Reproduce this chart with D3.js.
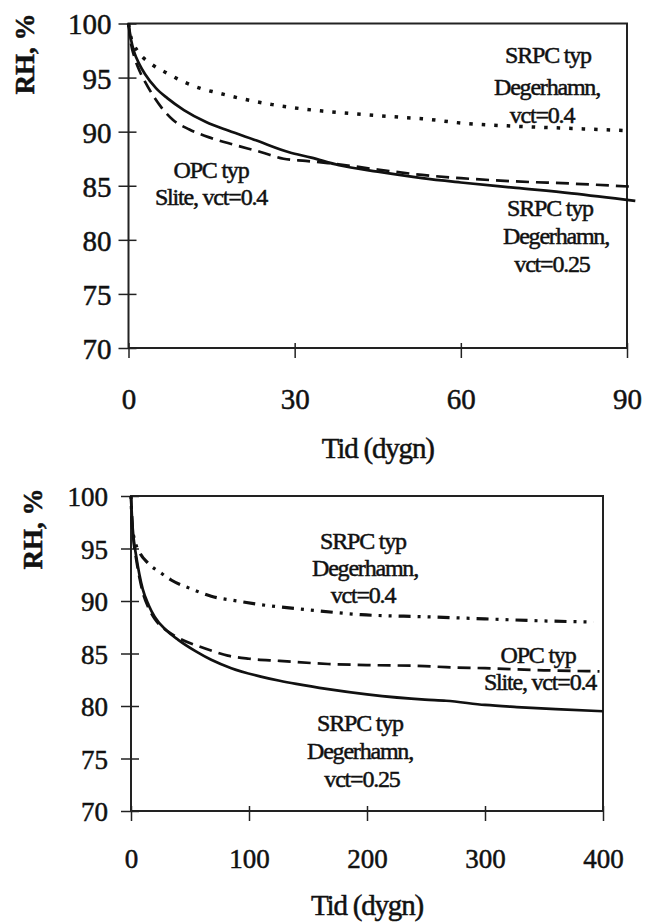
<!DOCTYPE html>
<html>
<head>
<meta charset="utf-8">
<script src="https://cdn.jsdelivr.net/npm/d3@7"></script>
<style>
  body { margin: 0; background: #fff; }
  text { font-family: "Liberation Serif", "Times New Roman", serif; fill: #111; stroke: #111; stroke-width: 0.5px; }
</style>
</head>
<body>
<svg id="chart" width="645" height="923"></svg>
<script>
// top chart, 0-90 days
const topSolidDays = [0, 0.5, 1, 2, 3, 5, 7, 10, 14, 18, 23, 29, 33, 38, 45, 53, 60, 70, 80, 91.5];
const topSolidRH   = [100, 98.4, 97.4, 96.2, 95.3, 94.0, 93.1, 92.0, 90.9, 90.1, 89.2, 88.1, 87.6, 86.9, 86.3, 85.7, 85.3, 84.8, 84.3, 83.6];
const topDashDays  = [0, 0.5, 1, 2, 3, 4, 6, 8, 11, 15, 19, 24, 28, 32, 36, 45, 53, 60, 70, 80, 91.5];
const topDashRH    = [100, 98.0, 97.0, 95.6, 94.6, 93.7, 92.2, 91.1, 90.2, 89.4, 88.8, 88.1, 87.5, 87.3, 87.1, 86.5, 86.0, 85.7, 85.4, 85.2, 84.9];
const topDotDays   = [0, 0.5, 1, 2, 4, 7, 10, 13, 16, 20, 26, 30, 35, 42, 50, 53, 60, 70, 80, 90];
const topDotRH     = [100, 98.6, 98.0, 97.2, 96.3, 95.4, 94.6, 94.0, 93.6, 93.1, 92.5, 92.2, 91.9, 91.6, 91.3, 91.2, 90.8, 90.5, 90.3, 90.1];
const topXTicks = [0, 30, 60, 90];

// bottom chart, 0-400 days
const botSolidDays = [0, 1, 2, 4.5, 7, 10, 15, 20, 30, 40, 55, 68, 85, 110, 126, 140, 167, 200, 249, 267, 300, 327, 360, 400];
const botSolidRH   = [100, 97.6, 96.2, 94.2, 92.6, 91.1, 89.6, 88.5, 87.2, 86.3, 85.2, 84.4, 83.6, 82.8, 82.4, 82.1, 81.6, 81.1, 80.6, 80.5, 80.1, 79.9, 79.7, 79.5];
const botDashDays  = [0, 1, 2, 4.5, 7, 10, 15, 20, 30, 40, 57, 70, 82, 100, 126, 167, 200, 249, 267, 300, 350, 397];
const botDashRH    = [100, 97.3, 95.9, 93.9, 92.3, 90.8, 89.3, 88.3, 87.2, 86.5, 85.7, 85.2, 84.8, 84.5, 84.3, 84.0, 83.9, 83.8, 83.7, 83.6, 83.4, 83.3];
const botDotDays   = [0, 1, 3.1, 7, 14.4, 25, 34, 50, 68, 90, 110, 147, 195, 249, 300, 350, 392];
const botDotRH     = [100, 97.2, 95.8, 94.7, 93.6, 92.7, 92.0, 91.2, 90.45, 90.0, 89.65, 89.2, 88.7, 88.5, 88.3, 88.1, 88.0];
const botXTicks = [0, 100, 200, 300, 400];

const yTicks = [70, 75, 80, 85, 90, 95, 100];

// annotation text lines
const topNotes = [
  { lines: ["SRPC typ", "Degerhamn,", "vct=0.4"], x: [548, 547, 542], y: [63, 95, 123] },
  { lines: ["OPC typ", "Slite, vct=0.4"], x: [211, 211], y: [178, 205] },
  { lines: ["SRPC typ", "Degerhamn,", "vct=0.25"], x: [550, 556, 552], y: [216, 244, 272] }
];
const botNotes = [
  { lines: ["SRPC typ", "Degerhamn,", "vct=0.4"], x: [363, 365, 363], y: [549, 576, 603] },
  { lines: ["OPC typ", "Slite, vct=0.4"], x: [538, 540], y: [663, 690] },
  { lines: ["SRPC typ", "Degerhamn,", "vct=0.25"], x: [360, 360, 362], y: [731, 759, 787] }
];

const svg = d3.select("#chart");

function drawPanel(cfg) {
  const x = d3.scaleLinear().domain(cfg.xDomain).range([cfg.left, cfg.right]);
  const y = d3.scaleLinear().domain([70, 100]).range([cfg.bottom, cfg.top]);
  const g = svg.append("g");

  // frame
  g.append("rect")
    .attr("x", cfg.left).attr("y", cfg.top)
    .attr("width", cfg.right - cfg.left).attr("height", cfg.bottom - cfg.top)
    .attr("fill", "none").attr("stroke", "#222").attr("stroke-width", 2);

  // y axis, ticks cross the frame
  const ya = g.append("g")
    .attr("transform", `translate(${cfg.left},0)`)
    .call(d3.axisLeft(y).tickValues(yTicks).tickSize(10).tickPadding(cfg.yPad));
  ya.select(".domain").remove();
  ya.selectAll(".tick line").attr("x1", 8).attr("stroke", "#222").attr("stroke-width", 1.5);
  ya.selectAll(".tick text")
    .attr("font-size", cfg.tickFont).attr("font-family", "Liberation Serif")
    .attr("fill", "#111").attr("dy", "0.36em");

  // x axis
  const xa = g.append("g")
    .attr("transform", `translate(0,${cfg.bottom})`)
    .call(d3.axisBottom(x).tickValues(cfg.xTicks).tickSize(10).tickPadding(cfg.xPad));
  xa.select(".domain").remove();
  xa.selectAll(".tick line").attr("y1", -5).attr("stroke", "#222").attr("stroke-width", 1.5);
  xa.selectAll(".tick text")
    .attr("font-size", cfg.tickFont).attr("font-family", "Liberation Serif")
    .attr("fill", "#111");

  // axis titles
  g.append("text")
    .attr("transform", `translate(${cfg.yTitleX},${cfg.yTitleY}) rotate(-90)`)
    .attr("text-anchor", "middle")
    .attr("font-size", 27).attr("font-weight", "bold")
    .text("RH, %");
  g.append("text")
    .attr("x", (cfg.left + cfg.right) / 2).attr("y", cfg.xTitleY)
    .attr("text-anchor", "middle")
    .attr("font-size", 29).attr("letter-spacing", -1.2)
    .text("Tid (dygn)");

  const line = d3.line().x(d => x(d[0])).y(d => y(d[1])).curve(d3.curveMonotoneX);
  cfg.series.forEach(s => {
    g.append("path")
      .datum(d3.zip(s.days, s.rh))
      .attr("d", line)
      .attr("fill", "none")
      .attr("stroke", "#111")
      .attr("stroke-width", s.width)
      .attr("stroke-dasharray", s.dash);
  });

  cfg.notes.forEach(n => {
    n.lines.forEach((t, i) => {
      g.append("text")
        .attr("x", n.x[i]).attr("y", n.y[i])
        .attr("text-anchor", "middle")
        .attr("font-size", 24).attr("letter-spacing", -1.2)
        .text(t);
    });
  });
}

drawPanel({
  xDomain: [0, 90], xTicks: topXTicks,
  left: 128.5, right: 627, top: 23.5, bottom: 348,
  tickFont: 29, yPad: 7, xPad: 30,
  yTitleX: 34, yTitleY: 54, xTitleY: 458,
  series: [
    { days: topDotDays, rh: topDotRH, width: 3.5, dash: "3.5,9" },
    { days: topDashDays, rh: topDashRH, width: 2.7, dash: "13,7" },
    { days: topSolidDays, rh: topSolidRH, width: 2.7, dash: null }
  ],
  notes: topNotes
});

drawPanel({
  xDomain: [0, 400], xTicks: botXTicks,
  left: 131, right: 603, top: 496, bottom: 811,
  tickFont: 27, yPad: 13, xPad: 28,
  yTitleX: 42, yTitleY: 529, xTitleY: 915,
  series: [
    { days: botDotDays, rh: botDotRH, width: 3.2, dash: "3,7,3,7,12,7" },
    { days: botDashDays, rh: botDashRH, width: 2.7, dash: "13,7" },
    { days: botSolidDays, rh: botSolidRH, width: 2.7, dash: null }
  ],
  notes: botNotes
});
</script>
</body>
</html>
